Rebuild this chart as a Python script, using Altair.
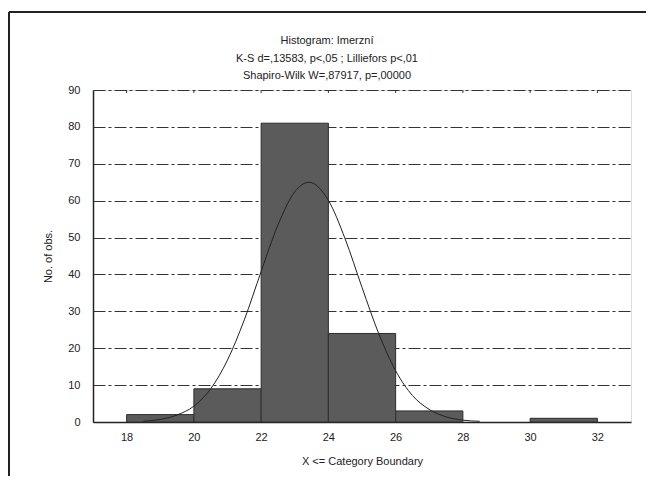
import altair as alt
import pandas as pd

# Histogram bins (category boundaries) and counts
bin_start = [18, 20, 22, 24, 26, 28, 30]
bin_end = [20, 22, 24, 26, 28, 30, 32]
counts = [2, 9, 81, 24, 3, 0, 1]

# Fitted normal curve
curve_x = [18.5, 19.0, 19.5, 20.0, 20.5, 21.0, 21.5, 22.0, 22.5, 23.0, 23.42,
           24.0, 24.5, 25.0, 25.5, 26.0, 26.5, 27.0, 27.5, 28.0, 28.5]
curve_y = [0.2, 0.7, 1.9, 4.3, 9.0, 16.8, 27.7, 40.8, 53.4, 62.4, 65.0,
           60.1, 49.6, 36.5, 23.9, 13.9, 7.2, 3.4, 1.4, 0.5, 0.2]

x_ticks = [18, 20, 22, 24, 26, 28, 30, 32]
y_ticks = [0, 10, 20, 30, 40, 50, 60, 70, 80, 90]

title_lines = ["Histogram: Imerzní",
               "K-S d=,13583, p<,05 ; Lilliefors p<,01",
               "Shapiro-Wilk W=,87917, p=,00000"]
title_offsets = [-49, -31.5, -14]

FONT = "Liberation Sans"

bars_df = pd.DataFrame({"start": bin_start, "end": bin_end, "count": counts})
curve_df = pd.DataFrame({"x": curve_x, "y": curve_y})
ticks_df = pd.DataFrame({"x": x_ticks})
title_df = pd.DataFrame({"text": title_lines, "off": title_offsets})

xscale = alt.Scale(domain=[17, 33], nice=False, zero=False)
yscale = alt.Scale(domain=[0, 90], nice=False)

xaxis = alt.Axis(values=x_ticks, title="X <= Category Boundary", ticks=False,
                 grid=False, labelPadding=9, titlePadding=13,
                 domainColor="#222", domainWidth=1.5,
                 labelFont=FONT, titleFont=FONT, labelFontSize=11, titleFontSize=11,
                 labelColor="#222", titleColor="#222", titleFontWeight="normal")
yaxis = alt.Axis(values=y_ticks, title="No. of obs.", ticks=False,
                 grid=True, gridColor="#333", gridDash=[12, 3, 3, 3],
                 gridWidth=1, labelPadding=13, titlePadding=14,
                 domainColor="#222", domainWidth=1.5, labelOverlap=False,
                 labelFont=FONT, titleFont=FONT, labelFontSize=11, titleFontSize=11,
                 labelColor="#222", titleColor="#222", titleFontWeight="normal")

bars = alt.Chart(bars_df).transform_filter(alt.datum["count"] > 0).mark_rect(
    color="#5b5b5b", stroke="#2e2e2e", strokeWidth=1
).encode(
    x=alt.X("start:Q", scale=xscale, axis=xaxis),
    x2="end:Q",
    y=alt.Y("count:Q", scale=yscale, axis=yaxis),
    y2=alt.datum(0),
)

curve = alt.Chart(curve_df).mark_line(
    color="#222", strokeWidth=1, interpolate="monotone"
).encode(
    x=alt.X("x:Q", scale=xscale, axis=xaxis),
    y=alt.Y("y:Q", scale=yscale, axis=yaxis),
)

top_ticks = alt.Chart(ticks_df).mark_rule(color="#333", strokeWidth=1).encode(
    x=alt.X("x:Q", scale=xscale, axis=xaxis),
    y=alt.value(0),
    y2=alt.value(3),
)

titles = alt.Chart(title_df).mark_text(
    font=FONT, fontSize=11, color="#222", align="center", baseline="middle"
).encode(
    text="text:N",
    x=alt.value(234),
    y=alt.Y("off:Q", scale=None),
)

frame_left = alt.Chart(pd.DataFrame({"k": [0]})).mark_rule(
    color="#222", strokeWidth=2
).encode(x=alt.value(-84), y=alt.value(-78), y2=alt.value(420))

frame_top = alt.Chart(pd.DataFrame({"k": [0]})).mark_rule(
    color="#222", strokeWidth=2
).encode(x=alt.value(-84), x2=alt.value(580), y=alt.value(-78))

chart = alt.layer(bars, curve, top_ticks, titles, frame_left, frame_top).properties(
    width=538,
    height=332,
    autosize=alt.AutoSizeParams(type="none"),
    padding={"left": 85, "top": 82, "right": 15, "bottom": 54},
).configure_view(
    stroke="#555", strokeWidth=1
).configure(background="white")

chart.save("out.html", embed_options={"renderer": "svg", "actions": False})
